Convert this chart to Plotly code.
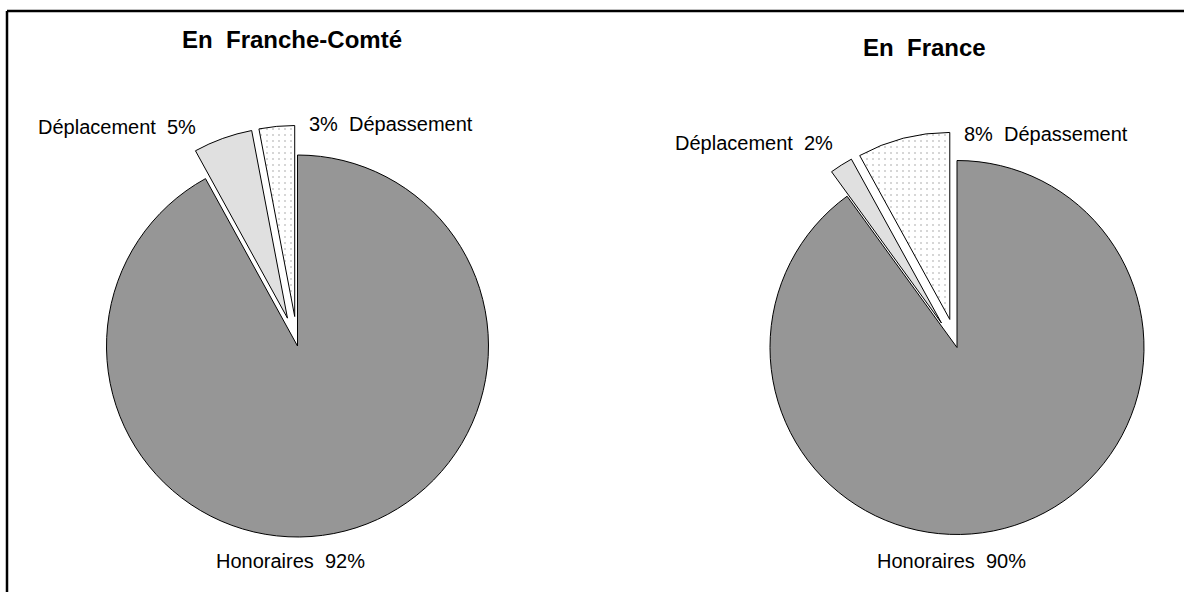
import plotly.graph_objects as go

# ---- data ----
categories = ["Honoraires", "Déplacement", "Dépassement"]
franche_comte_values = [92, 5, 3]
france_values = [90, 2, 8]
titles = ["En  Franche-Comté", "En  France"]

# ---- styles ----
slice_colors = ["#969696", "#e0e0e0", "#ffffff"]
pattern_shapes = ["", "", "."]
pulls = [0, 0.155, 0.155]
FONT = "Liberation Sans, Arial, sans-serif"

W, H = 1184, 592


def px_x(x):
    return x / W


def px_y(y):
    return 1 - y / H


def domain_for(cx, cy, r, pull):
    half = r * (1 + pull)
    return dict(x=[px_x(cx - half), px_x(cx + half)],
                y=[px_y(cy + half), px_y(cy - half)])


fig = go.Figure()

pies = [
    (franche_comte_values, domain_for(297.5, 346, 191, max(pulls))),
    (france_values, domain_for(957, 347.5, 187, max(pulls))),
]

for vals, dom in pies:
    fig.add_trace(go.Pie(
        labels=categories,
        values=vals,
        sort=False,
        direction="clockwise",
        rotation=0,
        pull=pulls,
        textinfo="none",
        hoverinfo="label+percent",
        domain=dom,
        marker=dict(
            colors=slice_colors,
            line=dict(color="black", width=1),
            pattern=dict(shape=pattern_shapes, fgcolor="#9a9a9a",
                         bgcolor="white", size=6, solidity=0.05),
        ),
        showlegend=False,
    ))

annotations = []
# titles
title_pos = [(292, 40), (924, 47.5)]
for t, (x, y) in zip(titles, title_pos):
    annotations.append(dict(text=f"<b>{t}</b>", x=px_x(x), y=px_y(y),
                            xref="paper", yref="paper", showarrow=False,
                            xanchor="center", yanchor="middle",
                            font=dict(family=FONT, size=24, color="black")))

# slice labels
label_pos = [
    dict(h=(290, 561), d=(198, 127), p=(307, 124)),
    dict(h=(951, 561), d=(835, 143), p=(962, 134)),
]
for vals, pos in zip([franche_comte_values, france_values], label_pos):
    annotations.append(dict(text=f"{categories[0]}  {vals[0]}%",
                            x=px_x(pos["h"][0]), y=px_y(pos["h"][1]),
                            xanchor="center", yanchor="middle"))
    annotations.append(dict(text=f"{categories[1]}  {vals[1]}%",
                            x=px_x(pos["d"][0]), y=px_y(pos["d"][1]),
                            xanchor="right", yanchor="middle"))
    annotations.append(dict(text=f"{vals[2]}%  {categories[2]}",
                            x=px_x(pos["p"][0]), y=px_y(pos["p"][1]),
                            xanchor="left", yanchor="middle"))

for a in annotations[2:]:
    a.update(xref="paper", yref="paper", showarrow=False,
             font=dict(family=FONT, size=20, color="black"))

fig.update_layout(
    width=W, height=H,
    margin=dict(l=0, r=0, t=0, b=0),
    paper_bgcolor="white",
    plot_bgcolor="white",
    annotations=annotations,
    shapes=[
        dict(type="line", xref="paper", yref="paper",
             x0=px_x(7), x1=1.0, y0=px_y(11), y1=px_y(11),
             line=dict(color="black", width=2.5)),
        dict(type="line", xref="paper", yref="paper",
             x0=px_x(7), x1=px_x(7), y0=px_y(11), y1=0.0,
             line=dict(color="black", width=2.5)),
    ],
)

fig.write_html(
    "out.html",
    config={"displayModeBar": False},
    post_script=("document.body.style.margin='0';"
                 "document.body.style.padding='0';"
                 "document.body.style.overflow='hidden';"),
)
